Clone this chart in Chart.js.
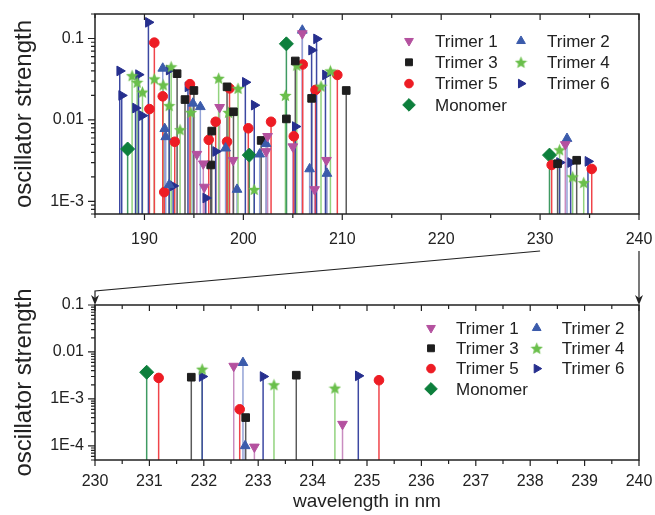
<!DOCTYPE html>
<html>
<head>
<meta charset="utf-8">
<script src="https://cdn.jsdelivr.net/npm/chart.js@4"></script>
<style>
  body { margin: 0; background: #fff; }
  #wrap { position: relative; width: 655px; height: 515px; }
  #topChart { position: absolute; left: 0; top: 0; }
  #zoomChart { position: absolute; left: 0; top: 245px; }
</style>
</head>
<body>
<div id="wrap">
  <canvas id="topChart" width="655" height="250"></canvas>
  <canvas id="zoomChart" width="655" height="270"></canvas>
</div>
<script>
// transition wavelengths (nm) and oscillator strengths for each species
const trimer1Nm = [195.3, 195.95, 196.05, 197.6, 198.96, 202.3, 202.45, 205.0, 205.96, 207.2, 208.4, 232.55, 232.93, 234.55];
const trimer1F  = [0.0038, 0.0029, 0.0015, 0.0143, 0.0032, 0.0041, 0.0063, 0.0047, 0.115, 0.0014, 0.0032, 0.0050, 9.5e-5, 2.9e-4];

const trimer2Nm = [191.85, 192.05, 192.15, 192.5, 194.9, 195.65, 198.2, 199.36, 201.65, 202.3, 205.96, 206.7, 208.45, 232.72, 232.76];
const trimer2F  = [0.043, 0.0078, 0.0062, 0.0016, 0.016, 0.0145, 0.0045, 0.0014, 0.0038, 0.0051, 0.126, 0.0025, 0.0022, 0.0059, 1.0e-4];

const trimer3Nm = [193.3, 194.1, 195.0, 196.7, 196.8, 198.35, 199.0, 201.8, 204.35, 205.25, 206.9, 210.4, 231.77, 232.77, 233.70];
const trimer3F  = [0.037, 0.0178, 0.023, 0.0028, 0.0073, 0.0255, 0.0126, 0.0056, 0.0103, 0.053, 0.0184, 0.023, 0.0029, 4.0e-4, 0.0032];

const trimer4Nm = [188.75, 189.26, 189.8, 191.0, 191.9, 192.5, 192.7, 193.6, 194.7, 197.5, 198.5, 199.46, 201.1, 204.25, 205.4, 207.85, 208.8, 231.97, 233.29, 234.41];
const trimer4F  = [0.035, 0.029, 0.022, 0.032, 0.027, 0.015, 0.045, 0.0076, 0.0124, 0.0325, 0.0124, 0.0244, 0.0014, 0.020, 0.047, 0.026, 0.040, 0.0043, 0.0020, 0.0017];

const trimer5Nm = [190.5, 191.0, 191.85, 192.0, 193.06, 194.6, 196.5, 197.2, 198.35, 198.6, 200.5, 202.8, 205.1, 206.0, 207.3, 209.5, 231.17, 232.66, 235.22];
const trimer5F  = [0.0136, 0.089, 0.0195, 0.0013, 0.0054, 0.0275, 0.0057, 0.0095, 0.0054, 0.0244, 0.0079, 0.0095, 0.0063, 0.048, 0.0234, 0.0357, 0.0028, 6.0e-4, 0.0025];

const trimer6Nm = [187.5, 187.7, 189.1, 189.4, 189.77, 190.4, 192.5, 192.9, 194.4, 196.2, 197.2, 200.2, 201.1, 205.25, 206.9, 207.4, 208.3, 231.97, 233.09, 234.84];
const trimer6F  = [0.040, 0.020, 0.014, 0.036, 0.0113, 0.158, 0.041, 0.00155, 0.0255, 0.0011, 0.0041, 0.029, 0.0152, 0.0083, 0.072, 0.099, 0.0357, 0.0030, 0.0030, 0.0031];

const monomerNm = [188.3, 200.6, 204.35, 230.95];
const monomerF  = [0.0044, 0.0037, 0.086, 0.0037];

// axis ticks
const topXTicks = [190, 200, 210, 220, 230, 240];
const zoomXTicks = [230, 231, 232, 233, 234, 235, 236, 237, 238, 239, 240];
const topYTicks = [1e-3, 0.01, 0.1];
const topYLabels = ['1E-3', '0.01', '0.1'];
const zoomYTicks = [1e-4, 1e-3, 0.01, 0.1];
const zoomYLabels = ['1E-4', '1E-3', '0.01', '0.1'];

const FONT = "'Liberation Sans', Arial, sans-serif";
Chart.defaults.font.family = FONT;
Chart.defaults.color = '#222';

function starImage(color, size) {
  const c = document.createElement('canvas');
  c.width = size; c.height = size;
  const g = c.getContext('2d');
  const R = size / 2, r = R * 0.45;
  g.beginPath();
  for (let i = 0; i < 10; i++) {
    const a = -Math.PI / 2 + i * Math.PI / 5;
    const rad = i % 2 ? r : R;
    g.lineTo(R + rad * Math.cos(a), R + 0.5 + rad * Math.sin(a));
  }
  g.closePath();
  g.fillStyle = color;
  g.fill();
  return c;
}

function pts(nm, f) {
  return nm.map((x, i) => ({ x: x, y: f[i] }));
}

function series(label, nm, f, color, stemColor, style, radius, rotation) {
  return {
    label: label,
    data: pts(nm, f),
    pointStyle: style,
    rotation: rotation || 0,
    pointRadius: radius,
    pointBackgroundColor: color,
    pointBorderColor: color,
    pointBorderWidth: 1,
    stemColor: stemColor,
    showLine: false
  };
}

function buildDatasets() {
  return [
    series('Trimer 1', trimer1Nm, trimer1F, '#b4519f', '#c98cc0', 'triangle', 5.6, 180),
    series('Trimer 2', trimer2Nm, trimer2F, '#3b5bab', '#93a3d6', 'triangle', 5.6, 0),
    series('Trimer 3', trimer3Nm, trimer3F, '#1e1e1e', '#5a5a5a', 'rect', 5.4, 0),
    series('Trimer 4', trimer4Nm, trimer4F, '#6abf4b', '#92d37e', starImage('#6abf4b', 13), 5.5, 0),
    series('Trimer 5', trimer5Nm, trimer5F, '#ed1c24', '#f0444a', 'circle', 4.8, 0),
    series('Trimer 6', trimer6Nm, trimer6F, '#262f8e', '#3c48a2', 'triangle', 5.6, 90),
    series('Monomer', monomerNm, monomerF, '#0d7f3c', '#3f9a62', 'rectRot', 7, 0)
  ];
}

// vertical drop lines from the x axis up to every marker
const stems = {
  id: 'stems',
  beforeDatasetsDraw(chart) {
    const { ctx, chartArea: a } = chart;
    ctx.save();
    ctx.beginPath();
    ctx.rect(a.left, a.top, a.right - a.left, a.bottom - a.top);
    ctx.clip();
    ctx.lineWidth = 1.5;
    chart.data.datasets.forEach((ds, i) => {
      ctx.strokeStyle = ds.stemColor;
      chart.getDatasetMeta(i).data.forEach(p => {
        if (p.x < a.left || p.x > a.right || p.y > a.bottom) return;
        ctx.beginPath();
        ctx.moveTo(p.x, a.bottom);
        ctx.lineTo(p.x, p.y);
        ctx.stroke();
      });
    });
    ctx.restore();
  }
};

// closed frame with outward ticks on left/bottom, inward mirror ticks on top
const frameTicks = {
  id: 'frameTicks',
  afterDatasetsDraw(chart, args, o) {
    const { ctx, chartArea: a, scales: { x, y } } = chart;
    ctx.save();
    ctx.strokeStyle = '#222';
    ctx.lineWidth = 1.5;
    ctx.strokeRect(a.left, a.top, a.right - a.left, a.bottom - a.top);
    ctx.lineWidth = 1.2;
    ctx.beginPath();
    for (let v = x.min; v <= x.max + 1e-6; v += o.xMinor) {
      const px = x.getPixelForValue(v);
      const major = Math.abs(v / o.xMajor - Math.round(v / o.xMajor)) < 1e-6;
      const len = major ? 6 : 4;
      ctx.moveTo(px, a.bottom); ctx.lineTo(px, a.bottom + len);
      ctx.moveTo(px, a.top); ctx.lineTo(px, a.top + len);
    }
    for (let k = Math.floor(Math.log10(y.min)); k <= Math.ceil(Math.log10(y.max)); k++) {
      for (let m = 1; m <= 9; m++) {
        const v = m * Math.pow(10, k);
        if (v < y.min * 0.999 || v > y.max * 1.001) continue;
        const py = y.getPixelForValue(v);
        ctx.moveTo(a.left - (m === 1 ? 7 : 4), py); ctx.lineTo(a.left, py);
      }
    }
    ctx.stroke();
    ctx.restore();
  }
};

// two-column legend drawn inside the plot area
const speciesLegend = {
  id: 'speciesLegend',
  afterDatasetsDraw(chart, args, o) {
    const ctx = chart.ctx;
    ctx.save();
    ctx.font = '17px ' + FONT;
    ctx.textBaseline = 'middle';
    ctx.textAlign = 'left';
    chart.data.datasets.forEach((ds, i) => {
      const col = i < 6 ? i % 2 : 0;
      const row = Math.floor(i / 2);
      const mx = o.x + col * o.colGap;
      const my = o.y + row * o.rowGap;
      ctx.fillStyle = ds.pointBackgroundColor;
      ctx.strokeStyle = ds.pointBorderColor;
      Chart.helpers.drawPoint(ctx, {
        pointStyle: ds.pointStyle, rotation: ds.rotation, radius: ds.pointRadius * 0.9, borderWidth: 1
      }, mx, my);
      ctx.fillStyle = '#222';
      ctx.fillText(ds.label, mx + o.textGap, my + 1);
    });
    ctx.restore();
  }
};

function makeOptions(cfg) {
  return {
    responsive: false,
    animation: false,
    events: [],
    layout: { padding: { top: cfg.padTop, right: 16, left: 0, bottom: 0 } },
    plugins: {
      legend: { display: false },
      tooltip: { enabled: false },
      frameTicks: { xMinor: cfg.xMinor, xMajor: cfg.xMajor },
      speciesLegend: cfg.legend
    },
    scales: {
      x: {
        type: 'linear',
        min: cfg.xMin, max: cfg.xMax,
        grid: { display: false, drawTicks: false },
        border: { display: false },
        afterBuildTicks: s => { s.ticks = cfg.xTicks.map(v => ({ value: v })); },
        afterFit: s => { s.height = cfg.xHeight; s.paddingLeft = 0; s.paddingRight = 0; },
        ticks: { font: { size: 16 }, padding: cfg.xPad, maxRotation: 0, autoSkip: false },
        title: cfg.xTitle ? {
          display: true, text: cfg.xTitle, font: { size: 19 }, padding: { top: 0, bottom: 2 }
        } : { display: false }
      },
      y: {
        type: 'logarithmic',
        min: cfg.yMin, max: cfg.yMax,
        grid: { display: false, drawTicks: false },
        border: { display: false },
        afterBuildTicks: s => { s.ticks = cfg.yTicks.map(v => ({ value: v })); },
        afterFit: s => { s.width = 95; s.paddingTop = 0; s.paddingBottom = 0; },
        ticks: {
          font: { size: 16 }, padding: 11,
          callback: v => cfg.yLabels[cfg.yTicks.findIndex(t => Math.abs(t - v) < t * 1e-6)]
        },
        title: { display: true, text: 'oscillator strength', font: { size: 24 }, padding: { top: 10, bottom: 0 } }
      }
    }
  };
}

const topChart = new Chart(document.getElementById('topChart'), {
  type: 'scatter',
  data: { datasets: buildDatasets() },
  options: makeOptions({
    padTop: 14, xMin: 185, xMax: 240, xTicks: topXTicks, xMinor: 5, xMajor: 10,
    xHeight: 36, xPad: 16, yMin: 7e-4, yMax: 0.2, yTicks: topYTicks, yLabels: topYLabels,
    legend: { x: 409, y: 41, colGap: 112, rowGap: 21.3, textGap: 26 }
  }),
  plugins: [stems, frameTicks, speciesLegend]
});

// lines linking the 230-240 nm window of the upper panel to the lower panel
const zoomConnector = {
  id: 'zoomConnector',
  afterDraw(chart) {
    const { ctx, chartArea: a } = chart;
    const xs = topChart.scales.x;
    const x230 = xs.getPixelForValue(230), x240 = xs.getPixelForValue(240);
    const y0 = 6;
    const arrow = (x, y) => {
      ctx.beginPath();
      ctx.moveTo(x, y);
      ctx.lineTo(x - 4, y - 10);
      ctx.lineTo(x, y - 7);
      ctx.lineTo(x + 4, y - 10);
      ctx.closePath();
      ctx.fill();
    };
    ctx.save();
    ctx.strokeStyle = '#222';
    ctx.fillStyle = '#222';
    ctx.lineWidth = 1.2;
    ctx.beginPath();
    ctx.moveTo(x230, y0);
    ctx.lineTo(a.left, a.top - 14);
    ctx.lineTo(a.left, a.top - 3);
    ctx.moveTo(x240, y0);
    ctx.lineTo(a.right, a.top - 3);
    ctx.stroke();
    arrow(a.left, a.top);
    arrow(a.right, a.top);
    ctx.restore();
  }
};

new Chart(document.getElementById('zoomChart'), {
  type: 'scatter',
  data: { datasets: buildDatasets() },
  options: makeOptions({
    padTop: 60, xMin: 230, xMax: 240, xTicks: zoomXTicks, xMinor: 0.5, xMajor: 1,
    xHeight: 55, xPad: 12, yMin: 5e-5, yMax: 0.1, yTicks: zoomYTicks, yLabels: zoomYLabels,
    xTitle: 'wavelength in nm',
    legend: { x: 431, y: 83, colGap: 105.7, rowGap: 20.3, textGap: 25 }
  }),
  plugins: [stems, frameTicks, speciesLegend, zoomConnector]
});
</script>
</body>
</html>
